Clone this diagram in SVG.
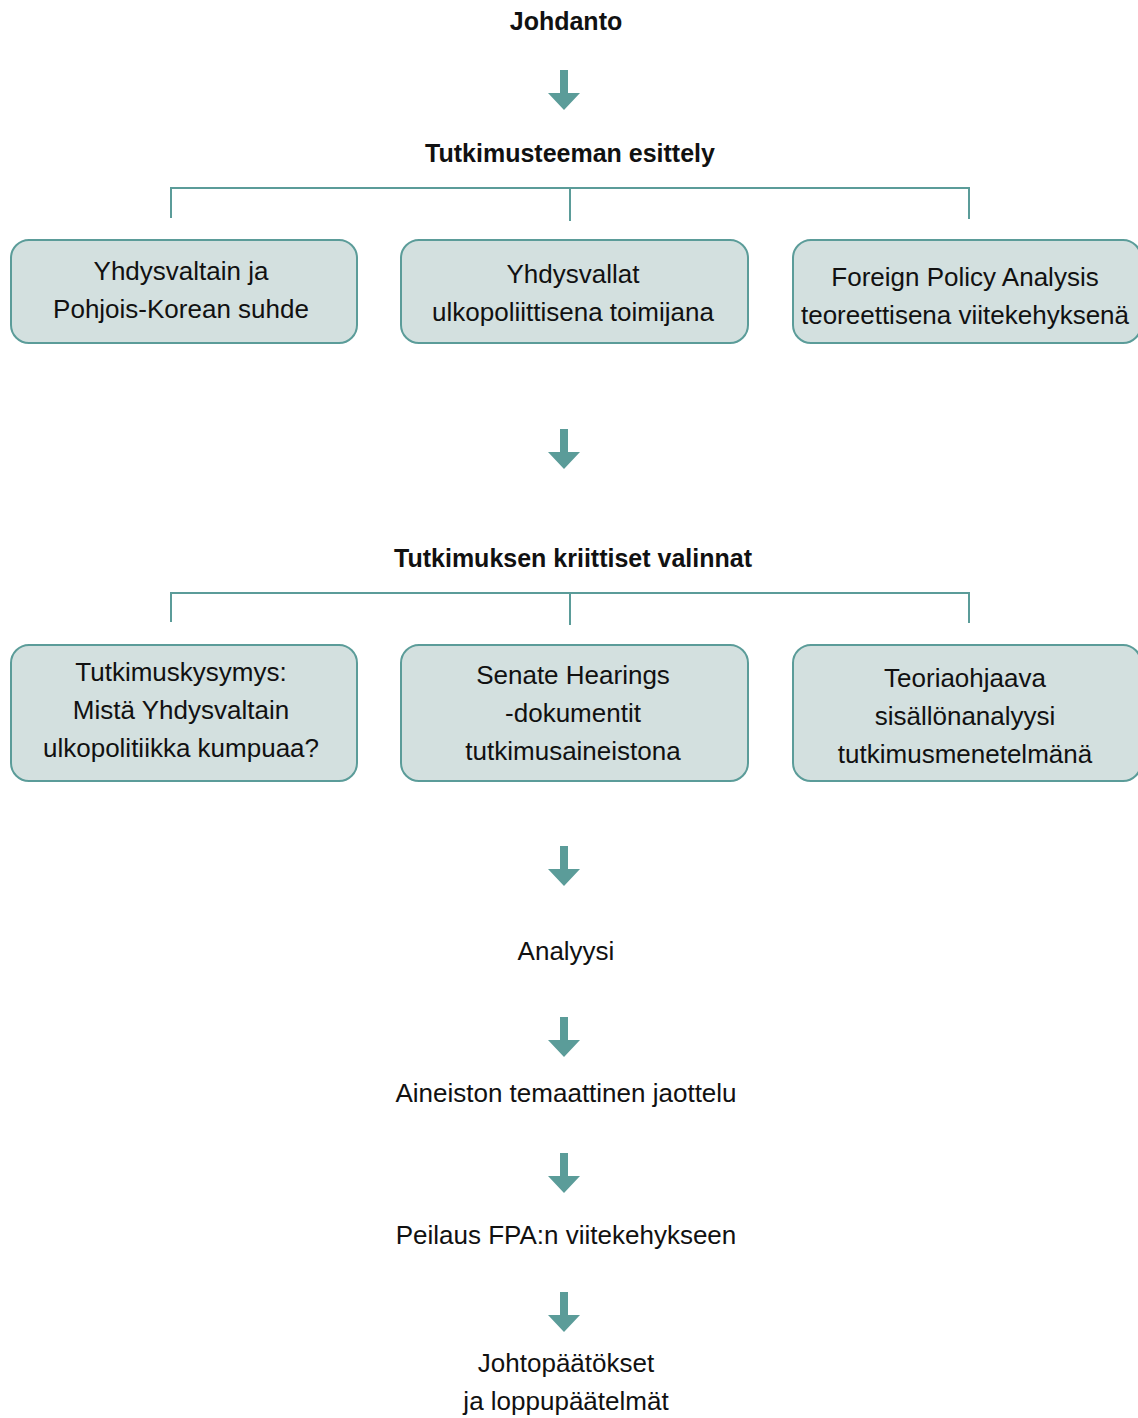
<svg xmlns="http://www.w3.org/2000/svg" width="1138" height="1418" viewBox="0 0 1138 1418">
<style>
.t{font-family:"Liberation Sans",Arial,sans-serif;font-size:26px;fill:#111;text-anchor:middle}
.b{font-family:"Liberation Sans",Arial,sans-serif;font-size:25px;font-weight:bold;fill:#111;text-anchor:middle}
.box{fill:#d3e0df;stroke:#5b9c99;stroke-width:2}
.ln{fill:none;stroke:#5b9c99;stroke-width:2}
.ar{fill:#5b9c99}
</style>
<defs>
<path id="arr" d="M-4,0 H4 V23 H16 L0,40 L-16,23 H-4 Z"/>
</defs>
<rect width="1138" height="1418" fill="#fff"/>
<g id="connectors">
<path class="ln" d="M171,218 V188 H969 V219 M570,188 V221"/>
<path class="ln" d="M171,622 V593 H969 V623 M570,593 V625"/>
<use href="#arr" class="ar" transform="translate(564,70)"/>
<use href="#arr" class="ar" transform="translate(564,429)"/>
<use href="#arr" class="ar" transform="translate(564,846)"/>
<use href="#arr" class="ar" transform="translate(564,1017)"/>
<use href="#arr" class="ar" transform="translate(564,1153)"/>
<use href="#arr" class="ar" transform="translate(564,1292)"/>
</g>
<g id="johdanto"><text class="b" x="566" y="30">Johdanto</text></g>
<g id="tutkimusteema"><text class="b" x="570" y="162">Tutkimusteeman esittely</text></g>
<g id="box1">
<rect class="box" x="11" y="240" width="346" height="103" rx="18"/>
<text class="t" x="181" y="280">Yhdysvaltain ja</text>
<text class="t" x="181" y="318">Pohjois-Korean suhde</text>
</g>
<g id="box2">
<rect class="box" x="401" y="240" width="347" height="103" rx="18"/>
<text class="t" x="573" y="283">Yhdysvallat</text>
<text class="t" x="573" y="321">ulkopoliittisena toimijana</text>
</g>
<g id="box3">
<rect class="box" x="793" y="240" width="348" height="103" rx="18"/>
<text class="t" x="965" y="286">Foreign Policy Analysis</text>
<text class="t" x="965" y="324">teoreettisena viitekehyksenä</text>
</g>
<g id="valinnat"><text class="b" x="573" y="567">Tutkimuksen kriittiset valinnat</text></g>
<g id="box4">
<rect class="box" x="11" y="645" width="346" height="136" rx="18"/>
<text class="t" x="181" y="681">Tutkimuskysymys:</text>
<text class="t" x="181" y="719">Mistä Yhdysvaltain</text>
<text class="t" x="181" y="757">ulkopolitiikka kumpuaa?</text>
</g>
<g id="box5">
<rect class="box" x="401" y="645" width="347" height="136" rx="18"/>
<text class="t" x="573" y="684">Senate Hearings</text>
<text class="t" x="573" y="722">-dokumentit</text>
<text class="t" x="573" y="760">tutkimusaineistona</text>
</g>
<g id="box6">
<rect class="box" x="793" y="645" width="348" height="136" rx="18"/>
<text class="t" x="965" y="687">Teoriaohjaava</text>
<text class="t" x="965" y="725">sisällönanalyysi</text>
<text class="t" x="965" y="763">tutkimusmenetelmänä</text>
</g>
<g id="analyysi"><text class="t" x="566" y="960">Analyysi</text></g>
<g id="jaottelu"><text class="t" x="566" y="1102">Aineiston temaattinen jaottelu</text></g>
<g id="peilaus"><text class="t" x="566" y="1244">Peilaus FPA:n viitekehykseen</text></g>
<g id="johtopaatokset">
<text class="t" x="566" y="1372">Johtopäätökset</text>
<text class="t" x="566" y="1410">ja loppupäätelmät</text>
</g>
</svg>
